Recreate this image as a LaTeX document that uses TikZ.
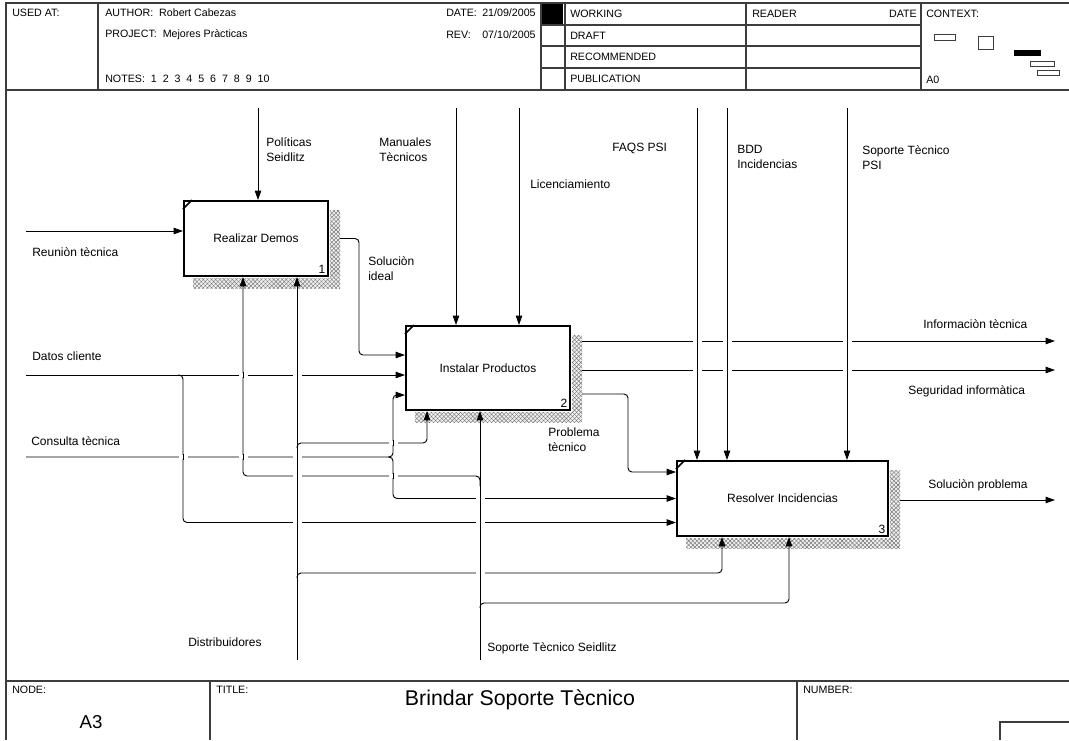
\documentclass[tikz,border=0pt]{standalone}
\usepackage{fontspec}
\setmainfont{Liberation Sans}
\usetikzlibrary{arrows.meta,patterns.meta}
\definecolor{framegray}{RGB}{60,60,60}
\definecolor{shadowgray}{RGB}{110,110,110}

\begin{document}
\begin{tikzpicture}[x=0.75pt,y=-0.75pt,font=\fontsize{9}{11.25}\selectfont,
  activity/.style={draw,line width=1.5pt,fill=white,inner sep=0pt},
  flow/.style={draw,line width=0.7pt,rounded corners=3pt},
  arr/.style={-{Triangle[length=7pt,width=4.8pt]}},
  lbl/.style={inner sep=0pt,anchor=west,align=left},
  hdr/.style={lbl,font=\fontsize{8}{10}\selectfont},
  frame/.style={draw=framegray,line width=0.9pt},
  shadowfill/.style={fill=gray!12,postaction={pattern={Lines[angle=45,distance=2.2pt,line width=0.3pt]},pattern color=shadowgray},
    postaction={pattern={Lines[angle=-45,distance=2.2pt,line width=0.3pt]},pattern color=shadowgray}}]
  \useasboundingbox (0,0) rectangle (1069,740);
  \fill[white] (0,0) rectangle (1069,740);

  \draw[frame] (6,740) -- (6,3) -- (1069,3);
  \draw[frame] (6,90) -- (1069,90);
  \draw[frame] (6,681) -- (1069,681);
  \foreach \hx in {98,541,565,746,921} \draw[frame] (\hx,3) -- (\hx,90);
  \foreach \hy in {25,46,68} \draw[frame] (541,\hy) -- (921,\hy);
  \fill (542,4) rectangle (563,24);
  \foreach \fx in {210,797} \draw[frame] (\fx,681) -- (\fx,740);
  \draw[frame] (1069,722) -- (1000,722) -- (1000,740);

  \node[hdr] (usedat) at (12,13) {USED AT:};
  \node[hdr] (author) at (105,13) {AUTHOR:\ \ Robert Cabezas};
  \node[hdr] (project) at (105,35) {PROJECT:\ \ Mejores Pràcticas};
  \node[hdr] (notes) at (105,79) {NOTES:\ \ 1\ \ 2\ \ 3\ \ 4\ \ 5\ \ 6\ \ 7\ \ 8\ \ 9\ \ 10};
  \node[hdr] (datelbl) at (446,13) {DATE:};
  \node[hdr] (dateval) at (482,13) {21/09/2005};
  \node[hdr] (revlbl) at (446,35) {REV:};
  \node[hdr] (revval) at (482,35) {07/10/2005};
  \node[hdr] (working) at (570,14) {WORKING};
  \node[hdr] (draft) at (570,36) {DRAFT};
  \node[hdr] (recomm) at (570,57) {RECOMMENDED};
  \node[hdr] (public) at (570,79) {PUBLICATION};
  \node[hdr] (reader) at (752,14) {READER};
  \node[hdr,anchor=east] (rdate) at (917,14) {DATE};
  \node[hdr] (context) at (926,14) {CONTEXT:};
  \node[hdr] (ctxnode) at (926,80) {A0};
  \draw[frame,line width=0.7pt] (934,34) rectangle (955,40);
  \draw[frame,line width=0.7pt] (978,36) rectangle (993,49);
  \fill (1014,50) rectangle (1041,56);
  \draw[frame,line width=0.7pt] (1030,61) rectangle (1054,66);
  \draw[frame,line width=0.7pt] (1037,70) rectangle (1059,75);

  \node[hdr] (nodelbl) at (12,690) {NODE:};
  \node[font=\fontsize{14}{16}\selectfont,inner sep=0pt] (nodeval) at (91,722) {A3};
  \node[hdr] (titlelbl) at (216,690) {TITLE:};
  \node[font=\fontsize{16}{18}\selectfont,inner sep=0pt] (title) at (520,700) {Brindar Soporte Tècnico};
  \node[hdr] (numberlbl) at (803,690) {NUMBER:};

  \node[activity,minimum width=108pt,minimum height=56.25pt] (b1) at (256,238.5) {Realizar Demos};
  \node[activity,minimum width=123pt,minimum height=63pt] (b2) at (488,368) {Instalar Productos};
  \node[activity,minimum width=158.25pt,minimum height=56.25pt] (b3) at (782.5,498.5) {Resolver Incidencias};
  \foreach \b/\n in {b1/1,b2/2,b3/3} {
    \node[anchor=south east,inner sep=2.5pt] (\b num) at (\b.south east) {\n};
    \draw[line width=1.2pt] ([yshift=-6.75pt]\b.north west) -- ([xshift=6.75pt]\b.north west);
    \fill[shadowfill] ([xshift=0.75pt,yshift=-7.5pt]\b.north east) rectangle ([xshift=8.25pt,yshift=-0.75pt]\b.south east);
    \fill[shadowfill] ([xshift=7.5pt,yshift=-0.75pt]\b.south west) rectangle ([xshift=8.25pt,yshift=-8.25pt]\b.south east);
    \coordinate (\b out) at ([xshift=8.25pt]\b.east);
  }

  \coordinate (politicas) at (258,108);
  \coordinate (manuales) at (456,108);
  \coordinate (licencia) at (519,108);
  \coordinate (faqs) at (697,108);
  \coordinate (bdd) at (727,108);
  \coordinate (soppsi) at (847,108);
  \coordinate (reunion) at (26,231);
  \coordinate (datos) at (26,375);
  \coordinate (consulta) at (26,457);
  \coordinate (infotec) at (1055,341);
  \coordinate (seguridad) at (1055,370);
  \coordinate (solprob) at (1055,500);
  \coordinate (distrib) at (297,660);
  \coordinate (sopseid) at (480,660);

  \draw[flow,arr] (politicas) -- (politicas |- b1.north);
  \draw[flow,arr] (manuales) -- (manuales |- b2.north);
  \draw[flow,arr] (licencia) -- (licencia |- b2.north);
  \draw[flow,arr] (faqs) -- (faqs |- b3.north);
  \draw[flow,arr] (bdd) -- (bdd |- b3.north);
  \draw[flow,arr] (soppsi) -- (soppsi |- b3.north);

  \draw[flow,arr] (reunion) -- (reunion -| b1.west);
  \draw[flow,arr] (datos) -- (datos -| b2.west);
  \draw[flow,arr] (178,375) -- (183,375) |- ([yshift=-18pt]b3.west);
  \draw[flow,arr] (consulta) -- (393,457) |- ([yshift=-20.25pt]b2.west);
  \draw[flow,arr] (388,457) -- (393,457) |- (b3.west);

  \draw[flow,arr] (b1out) -- (359,238.5) |- ([yshift=9.75pt]b2.west);
  \draw[flow,arr] (b2out |- infotec) -- (infotec);
  \draw[flow,arr] (b2out |- seguridad) -- (seguridad);
  \draw[flow,arr] ([yshift=-19.5pt]b2out) -- (628,394) |- ([yshift=19.875pt]b3.west);
  \draw[flow,arr] (b3out |- solprob) -- (solprob);

  \draw[flow,arr] (distrib) -- (distrib |- b1.south);
  \draw[flow,arr] (297,448) -- (297,443) -| ([xshift=-45.75pt]b2.south);
  \draw[flow,arr] (297,578) -- (297,573) -| ([xshift=-45.375pt]b3.south);
  \draw[flow,arr] (sopseid) -- (sopseid |- b2.south);
  \draw[flow,arr] (480,486) -- (480,476) -| ([xshift=-9.75pt]b1.south);
  \draw[flow,arr] (480,608) -- (480,603) -| ([xshift=4.875pt]b3.south);

  \foreach \gx/\gy in {697/341,727/341,847/341,697/370,727/370,847/370,243/375,297/375,
    183/457,243/457,297/457,393/443,297/476,393/476,480/500,297/523,480/523,480/573} {
    \fill[white] (\gx-4.5,\gy-2) rectangle (\gx+4.5,\gy+2);
    \draw[line width=0.7pt] (\gx,\gy-3) -- (\gx,\gy+3);
  }

  \node[lbl] (lpol) at (266,150) {Políticas\\Seidlitz};
  \node[lbl] (lman) at (379,150) {Manuales\\Tècnicos};
  \node[lbl] (llic) at (530,184) {Licenciamiento};
  \node[lbl] (lfaq) at (612,148) {FAQS PSI};
  \node[lbl] (lbdd) at (737,157) {BDD\\Incidencias};
  \node[lbl] (lpsi) at (862,158) {Soporte Tècnico\\PSI};
  \node[lbl] (lreu) at (32,252) {Reuniòn tècnica};
  \node[lbl] (ldat) at (32,356) {Datos cliente};
  \node[lbl] (lcon) at (31,441) {Consulta tècnica};
  \node[lbl] (lsol) at (368,269) {Soluciòn\\ideal};
  \node[lbl] (linf) at (923,324) {Informaciòn tècnica};
  \node[lbl] (lseg) at (908,391) {Seguridad informàtica};
  \node[lbl] (lprob) at (548,440) {Problema\\tècnico};
  \node[lbl] (lsolp) at (928,485) {Soluciòn problema};
  \node[lbl] (ldis) at (188,642) {Distribuidores};
  \node[lbl] (lsts) at (487,648) {Soporte Tècnico Seidlitz};
\end{tikzpicture}
\end{document}
